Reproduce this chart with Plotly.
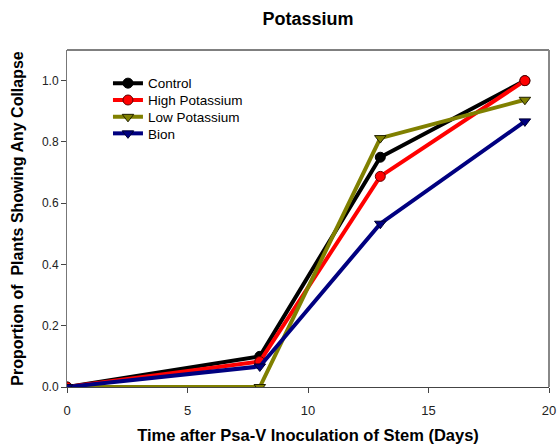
import plotly.graph_objects as go

days = [0, 8, 13, 19]
control = [0.0, 0.10, 0.75, 1.0]
high_potassium = [0.0, 0.083, 0.6875, 1.0]
low_potassium = [0.0, 0.0, 0.8125, 0.9375]
bion = [0.0, 0.067, 0.533, 0.867]

series = [
    ("Control", control, "black", "circle", "black"),
    ("High Potassium", high_potassium, "#ff0000", "circle", "#600000"),
    ("Low Potassium", low_potassium, "#808000", "triangle-down", "#202000"),
    ("Bion", bion, "#000080", "triangle-down", "#000030"),
]

# one legend per entry so the rows sit close together
legend_ids = ["legend", "legend2", "legend3", "legend4"]
legend_rows = [0.901, 0.851, 0.801, 0.752]

fig = go.Figure()
for (name, vals, color, symbol, edge), lid in zip(series, legend_ids):
    fig.add_trace(go.Scatter(
        x=days, y=vals, name=name, mode="lines+markers",
        line=dict(color=color, width=4),
        marker=dict(symbol=symbol, size=10, color=color,
                    line=dict(color=edge, width=1)),
        legend=lid,
    ))

legend_style = dict(x=0.085, xanchor="left", yanchor="middle",
                    bgcolor="rgba(0,0,0,0)", borderwidth=0,
                    font=dict(size=13.5, color="black"))
legends = {lid: dict(y=yy, **legend_style) for lid, yy in zip(legend_ids, legend_rows)}

fig.update_layout(
    width=557, height=444,
    margin=dict(l=67, r=8, t=50, b=57),
    paper_bgcolor="white", plot_bgcolor="white",
    font=dict(family="Liberation Sans, Arial, sans-serif", color="#222222", size=12),
    title=dict(text="<b>Potassium</b>", x=0.553, xanchor="center", y=0.957,
               yanchor="middle", font=dict(size=18, color="black")),
    showlegend=True,
    **legends,
    xaxis=dict(range=[0, 20], tickvals=[0, 5, 10, 15, 20], ticks="outside",
               ticklen=5, tickcolor="#444444", showgrid=False, zeroline=False,
               showline=True, linecolor="#444444", linewidth=1, mirror=False,
               automargin=False, ticklabelstandoff=6,
               tickfont=dict(size=13),
               title=dict(text="<b>Time after Psa-V Inoculation of Stem (Days)</b>",
                          font=dict(size=16.5, color="black"), standoff=14)),
    yaxis=dict(range=[0, 1.1], tickvals=[0, 0.2, 0.4, 0.6, 0.8, 1.0],
               tickformat=".1f", ticks="outside", ticklen=5, tickcolor="#444444",
               showgrid=False, zeroline=False, showline=True,
               linecolor="#777777", linewidth=1, automargin=False,
               title=dict(text="<b>Proportion of&nbsp; Plants Showing Any Collapse</b>",
                          font=dict(size=16, color="black"), standoff=14)),
)

# frame: thin black top edge, heavier grey right edge
fig.add_shape(type="line", xref="paper", yref="paper", x0=0, x1=1, y0=1, y1=1,
              line=dict(color="black", width=1))
fig.add_shape(type="line", xref="paper", yref="paper", x0=1, x1=1, y0=0, y1=1,
              line=dict(color="#888888", width=2))

fig.write_html("out.html")
